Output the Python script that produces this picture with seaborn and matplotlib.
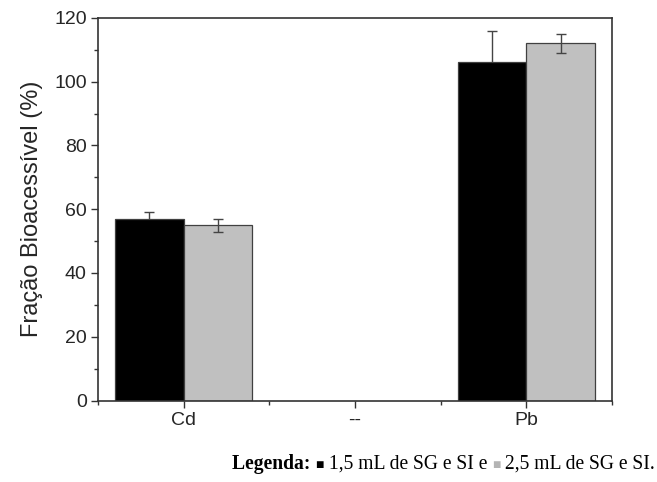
import matplotlib
matplotlib.use("Agg")
import matplotlib.pyplot as plt
from matplotlib.ticker import MultipleLocator, FixedLocator
import seaborn as sns
import pandas as pd

# Bioaccessible fraction per element and extraction volume
elements = ["Cd", "Pb"]
categories = ["Cd", "--", "Pb"]
volumes = ["1,5 mL", "2,5 mL"]
vals_15 = [57, 106]
err_15 = [2, 10]
vals_25 = [55, 112]
err_25 = [2, 3]

df = pd.DataFrame({
    "elemento": elements * 2,
    "volume": [volumes[0]] * 2 + [volumes[1]] * 2,
    "fracao": vals_15 + vals_25,
    "erro": err_15 + err_25,
})

sns.set_style("ticks")
plt.rcParams["font.family"] = ["Liberation Sans", "DejaVu Sans"]

fig = plt.figure(figsize=(6.57, 4.82), dpi=100)
ax = fig.add_axes([0.149, 0.169, 0.7825, 0.794])

palette = {volumes[0]: "#000000", volumes[1]: "#c0c0c0"}
sns.barplot(data=df, x="elemento", y="fracao", hue="volume", order=categories,
            hue_order=volumes, palette=palette, errorbar=None, width=0.8,
            saturation=1, edgecolor="#404040", linewidth=0.9, legend=False, ax=ax)
for p in ax.patches:
    p.set_zorder(2)

# error bars for each bar, matched by category and hue slot;
# on the black bars they sit behind the fill, so only the upper half shows
for p in ax.patches:
    h = p.get_height()
    if not h or h != h:
        continue
    cx = p.get_x() + p.get_width() / 2
    idx = int(round(cx))
    hue_i = 0 if cx < idx else 1
    row = df[(df["elemento"] == categories[idx]) & (df["volume"] == volumes[hue_i])].iloc[0]
    ax.errorbar(cx, row["fracao"], yerr=row["erro"], fmt="none", ecolor="#444444",
                elinewidth=1.0, capsize=3.5, capthick=1.0,
                zorder=1.5 if hue_i == 0 else 3)

ax.set_xlim(-0.5, 2.5)
ax.set_ylim(0, 120)
ax.yaxis.set_major_locator(MultipleLocator(20))
ax.yaxis.set_minor_locator(MultipleLocator(10))
ax.xaxis.set_minor_locator(FixedLocator([-0.5, 0.5, 1.5, 2.5]))
ax.tick_params(axis="both", which="major", direction="out", length=5, width=1,
               labelsize=14, color="#333333")
ax.tick_params(axis="both", which="minor", direction="out", length=3, width=1,
               color="#333333")
ax.tick_params(axis="x", which="major", pad=3)
ax.tick_params(axis="y", which="major", pad=3)
for s in ax.spines.values():
    s.set_visible(True)
    s.set_linewidth(1.2)
    s.set_color("#333333")
    s.set_zorder(4)
ax.set_xlabel("")
ax.set_ylabel("Fração Bioacessível (%)", fontsize=17, labelpad=8)

# caption below the plot, built from consecutive text pieces
pieces = [
    ("Legenda: ", "bold", "#000000"),
    ("\u25a0", "normal", "#000000"),
    (" 1,5 mL de SG e SI e ", "normal", "#000000"),
    ("\u25a0", "normal", "#b4b4b4"),
    (" 2,5 mL de SG e SI.", "normal", "#000000"),
]
fig.canvas.draw()
renderer = fig.canvas.get_renderer()
x_px = 232
y_frac = 1 - 469 / 482
for txt, weight, color in pieces:
    size = 10 if txt == "\u25a0" else 14.1
    t = fig.text(x_px / 657, y_frac, txt, fontsize=size, fontweight=weight, color=color,
                 family=["Liberation Serif", "DejaVu Sans"], va="baseline", ha="left")
    bb = t.get_window_extent(renderer=renderer)
    x_px += bb.width

fig.savefig("out.png", dpi=100)
